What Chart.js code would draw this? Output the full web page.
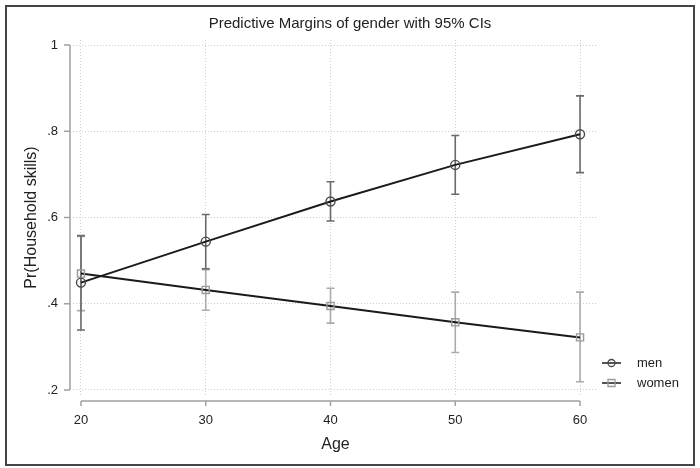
<!DOCTYPE html>
<html>
<head>
<meta charset="utf-8">
<script src="https://cdn.jsdelivr.net/npm/chart.js@4.4.1/dist/chart.umd.min.js"></script>
<style>
  body { margin: 0; background: #fff; }
  #wrap { position: relative; width: 700px; height: 468px; }
  #chart { position: absolute; left: 0; top: 0; }
  #frame {
    position: absolute; left: 5px; top: 5px; width: 686px; height: 457px;
    border: 2px solid #444; pointer-events: none;
  }
</style>
</head>
<body>
<div id="wrap">
  <canvas id="chart" width="700" height="468"></canvas>
  <div id="frame"></div>
</div>
<script>
// Daten
const ages = [20, 30, 40, 50, 60];
const menMargin = [0.449, 0.544, 0.637, 0.722, 0.793];
const menLower  = [0.339, 0.481, 0.592, 0.654, 0.704];
const menUpper  = [0.558, 0.607, 0.683, 0.790, 0.882];
const womenMargin = [0.470, 0.432, 0.395, 0.357, 0.322];
const womenLower  = [0.384, 0.385, 0.355, 0.287, 0.219];
const womenUpper  = [0.556, 0.479, 0.436, 0.427, 0.427];
const xTicks = [20, 30, 40, 50, 60];
const yTicks = [0.2, 0.4, 0.6, 0.8, 1];

const fontFam = "'Liberation Sans', Arial, sans-serif";
const textColor = '#222';

function toPoints(values) {
    return ages.map((a, i) => ({ x: a, y: values[i] }));
}

// Fehlerbalken (95% CIs) über die Skalen zeichnen
const errorBars = {
    id: 'errorBars',
    beforeDatasetsDraw(chart) {
        const { ctx, scales: { x, y } } = chart;
        const sets = [
            { lo: womenLower, hi: womenUpper, color: '#ababab' },
            { lo: menLower, hi: menUpper, color: '#6a6a6a' }
        ];
        ctx.save();
        ctx.lineWidth = 1.6;
        sets.forEach(s => {
            ctx.strokeStyle = s.color;
            ages.forEach((a, i) => {
                const px = x.getPixelForValue(a);
                const top = y.getPixelForValue(s.hi[i]);
                const bot = y.getPixelForValue(s.lo[i]);
                ctx.beginPath();
                ctx.moveTo(px, top); ctx.lineTo(px, bot);
                ctx.moveTo(px - 4, top); ctx.lineTo(px + 4, top);
                ctx.moveTo(px - 4, bot); ctx.lineTo(px + 4, bot);
                ctx.stroke();
            });
        });
        ctx.restore();
    }
};

// Achsenlinien im Stata-Stil, etwas vom Plotbereich abgesetzt
const axisLines = {
    id: 'axisLines',
    afterDraw(chart) {
        const { ctx, chartArea, scales: { x, y } } = chart;
        const ax = chartArea.left - 3;
        const ay = chartArea.bottom + 6;
        ctx.save();
        ctx.strokeStyle = '#a0a0a0';
        ctx.lineWidth = 1.5;
        ctx.beginPath();
        ctx.moveTo(ax, y.getPixelForValue(yTicks[0]));
        ctx.lineTo(ax, y.getPixelForValue(yTicks[yTicks.length - 1]));
        yTicks.forEach(v => {
            const p = y.getPixelForValue(v);
            ctx.moveTo(ax, p); ctx.lineTo(ax - 6, p);
        });
        ctx.moveTo(x.getPixelForValue(xTicks[0]), ay);
        ctx.lineTo(x.getPixelForValue(xTicks[xTicks.length - 1]), ay);
        xTicks.forEach(v => {
            const p = x.getPixelForValue(v);
            ctx.moveTo(p, ay); ctx.lineTo(p, ay + 5);
        });
        ctx.stroke();

        // Legende unten rechts
        const items = chart.data.datasets;
        items.forEach((ds, i) => {
            const ly = 363 + i * 20;
            ctx.strokeStyle = '#1a1a1a';
            ctx.lineWidth = 1.5;
            ctx.beginPath();
            ctx.moveTo(602, ly); ctx.lineTo(621, ly);
            ctx.stroke();
            ctx.strokeStyle = ds.pointBorderColor;
            ctx.lineWidth = 1.3;
            ctx.beginPath();
            if (ds.pointStyle === 'circle') {
                ctx.arc(611.5, ly, 3.5, 0, Math.PI * 2);
            } else {
                ctx.rect(608, ly - 3.5, 7, 7);
            }
            ctx.stroke();
            ctx.fillStyle = textColor;
            ctx.font = '13px ' + fontFam;
            ctx.textBaseline = 'middle';
            ctx.fillText(ds.label, 637, ly);
        });
        ctx.restore();
    }
};

const ctx = document.getElementById('chart').getContext('2d');
new Chart(ctx, {
    type: 'line',
    data: {
        datasets: [
            {
                label: 'men',
                data: toPoints(menMargin),
                borderColor: '#1a1a1a',
                borderWidth: 2,
                pointStyle: 'circle',
                pointRadius: 4.5,
                pointBorderWidth: 1.4,
                pointBorderColor: '#4a4a4a',
                pointBackgroundColor: 'rgba(0,0,0,0)',
                tension: 0
            },
            {
                label: 'women',
                data: toPoints(womenMargin),
                borderColor: '#1a1a1a',
                borderWidth: 2,
                pointStyle: 'rect',
                pointRadius: 5,
                pointBorderWidth: 1.4,
                pointBorderColor: '#9a9a9a',
                pointBackgroundColor: 'rgba(0,0,0,0)',
                tension: 0
            }
        ]
    },
    options: {
        responsive: false,
        animation: false,
        devicePixelRatio: 1,
        layout: { padding: 0 },
        plugins: {
            legend: { display: false },
            tooltip: { enabled: false },
            title: {
                display: true,
                text: 'Predictive Margins of gender with 95% CIs',
                color: textColor,
                font: { family: fontFam, size: 15, weight: 'normal' },
                padding: { top: 15, bottom: 7 }
            }
        },
        scales: {
            x: {
                type: 'linear',
                min: 19.36,
                max: 61.44,
                afterBuildTicks: s => { s.ticks = xTicks.map(v => ({ value: v })); },
                afterFit: s => { s.height = 73; },
                grid: { color: '#cfcfcf', lineWidth: 1, drawTicks: false },
                border: { display: false, dash: [1, 2] },
                ticks: {
                    padding: 18,
                    color: textColor,
                    font: { family: fontFam, size: 13 },
                    callback: v => String(v)
                },
                title: {
                    display: true,
                    text: 'Age',
                    color: textColor,
                    font: { family: fontFam, size: 16 },
                    padding: { top: 0, bottom: 14 }
                }
            },
            y: {
                type: 'linear',
                position: 'left',
                min: 0.1884,
                max: 1.0116,
                afterBuildTicks: s => { s.ticks = yTicks.map(v => ({ value: v })); },
                afterFit: s => { s.width = 73; },
                grid: { color: '#cfcfcf', lineWidth: 1, drawTicks: false },
                border: { display: false, dash: [1, 2] },
                ticks: {
                    padding: 15,
                    color: textColor,
                    font: { family: fontFam, size: 13 },
                    callback: v => (v === 1 ? '1' : v.toFixed(1).replace(/^0/, ''))
                },
                title: {
                    display: true,
                    text: 'Pr(Household skills)',
                    color: textColor,
                    font: { family: fontFam, size: 16 },
                    padding: { top: 22, bottom: 0 }
                }
            },
            yRight: {
                type: 'linear',
                position: 'right',
                display: true,
                afterFit: s => { s.width = 102; },
                grid: { display: false },
                border: { display: false },
                ticks: { display: false }
            }
        }
    },
    plugins: [errorBars, axisLines]
});
</script>
</body>
</html>
